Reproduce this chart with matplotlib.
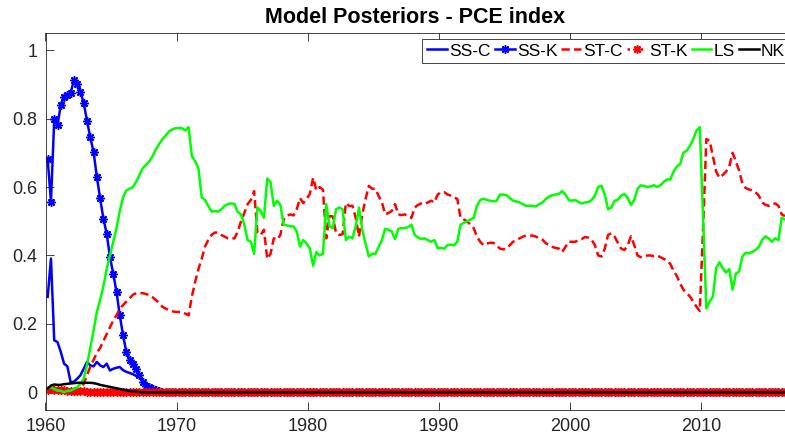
import numpy as np
import matplotlib
matplotlib.use("Agg")
import matplotlib.pyplot as plt

plt.rcParams["font.family"] = ["Liberation Sans", "DejaVu Sans"]

# quarterly posterior model probabilities, 1960Q1 - 2016Q2
ss_c_early = [0.279, 0.391, 0.152, 0.147, 0.118, 0.084, 0.076, 0.03, 0.031, 0.04,
              0.05, 0.069, 0.089, 0.079, 0.076, 0.089, 0.079, 0.074, 0.084, 0.064,
              0.069, 0.072, 0.074, 0.065, 0.06, 0.057, 0.053, 0.048, 0.045, 0.035,
              0.027, 0.02, 0.012, 0.008, 0.005, 0.003, 0.001]
ss_k_early = [0.681, 0.557, 0.798, 0.781, 0.84, 0.864, 0.869, 0.874, 0.913, 0.901,
              0.879, 0.845, 0.794, 0.745, 0.703, 0.63, 0.567, 0.508, 0.464, 0.396,
              0.347, 0.294, 0.225, 0.167, 0.118, 0.094, 0.084, 0.069, 0.05, 0.03,
              0.02, 0.015, 0.01, 0.006, 0.004, 0.002, 0.001]
st_k_early = [0.008, 0.01, 0.008, 0.007, 0.006, 0.006, 0.005, 0.005, 0.004, 0.004,
              0.003, 0.003, 0.002, 0.002, 0.001]
nk_early = [0.011, 0.02, 0.023, 0.022, 0.022, 0.024, 0.025, 0.026, 0.027, 0.028,
            0.028, 0.028, 0.028, 0.028, 0.027, 0.025, 0.022, 0.02, 0.018, 0.016,
            0.014, 0.012, 0.01, 0.008, 0.006, 0.004, 0.003, 0.002, 0.001]

st_c = [
    0.0, 0.0, 0.0, 0.0,           # 1960
    0.0, 0.0, 0.0, 0.0,           # 1961
    0.0, 0.005, 0.012, 0.025,     # 1962
    0.05, 0.075, 0.095, 0.115,    # 1963
    0.13, 0.15, 0.17, 0.19,       # 1964
    0.21, 0.225, 0.245, 0.255,    # 1965
    0.265, 0.275, 0.285, 0.29,    # 1966
    0.29, 0.29, 0.287, 0.285,     # 1967
    0.278, 0.27, 0.262, 0.25,     # 1968
    0.245, 0.24, 0.237, 0.235,    # 1969
    0.235, 0.235, 0.23, 0.225,    # 1970
    0.28, 0.323, 0.36, 0.39,      # 1971
    0.426, 0.445, 0.46, 0.467,    # 1972
    0.467, 0.46, 0.455, 0.45,     # 1973
    0.45, 0.45, 0.47, 0.50,       # 1974
    0.524, 0.55, 0.562, 0.588,    # 1975
    0.466, 0.46, 0.475, 0.39,     # 1976
    0.405, 0.45, 0.446, 0.46,     # 1977
    0.505, 0.516, 0.52, 0.517,    # 1978
    0.535, 0.568, 0.553, 0.565,   # 1979
    0.58, 0.627, 0.59, 0.60,      # 1980
    0.592, 0.45, 0.515, 0.514,    # 1981
    0.465, 0.46, 0.462, 0.553,    # 1982
    0.545, 0.545, 0.51, 0.455,    # 1983
    0.52, 0.565, 0.603, 0.595,    # 1984
    0.595, 0.574, 0.555, 0.52,    # 1985
    0.524, 0.53, 0.55, 0.52,      # 1986
    0.518, 0.52, 0.516, 0.51,     # 1987
    0.54, 0.548, 0.552, 0.55,     # 1988
    0.555, 0.56, 0.555, 0.578,    # 1989
    0.585, 0.585, 0.578, 0.575,   # 1990
    0.57, 0.565, 0.51, 0.505,     # 1991
    0.50, 0.49, 0.48, 0.455,      # 1992
    0.44, 0.43, 0.435, 0.437,     # 1993
    0.437, 0.43, 0.42, 0.418,     # 1994
    0.42, 0.43, 0.44, 0.445,      # 1995
    0.45, 0.455, 0.458, 0.458,    # 1996
    0.458, 0.455, 0.45, 0.446,    # 1997
    0.436, 0.43, 0.425, 0.422,    # 1998
    0.42, 0.41, 0.425, 0.44,      # 1999
    0.44, 0.44, 0.445, 0.448,     # 2000
    0.454, 0.452, 0.446, 0.43,    # 2001
    0.40, 0.397, 0.42, 0.46,      # 2002
    0.465, 0.455, 0.437, 0.42,    # 2003
    0.416, 0.43, 0.456, 0.43,     # 2004
    0.40, 0.395, 0.397, 0.40,     # 2005
    0.40, 0.398, 0.40, 0.395,     # 2006
    0.39, 0.385, 0.375, 0.355,    # 2007
    0.34, 0.318, 0.30, 0.29,      # 2008
    0.28, 0.265, 0.25, 0.238,     # 2009
    0.48, 0.74, 0.735, 0.69,      # 2010
    0.645, 0.627, 0.635, 0.645,   # 2011
    0.66, 0.70, 0.675, 0.648,     # 2012
    0.61, 0.597, 0.593, 0.59,     # 2013
    0.585, 0.575, 0.555, 0.548,   # 2014
    0.545, 0.55, 0.552, 0.545,    # 2015
    0.52, 0.515,                  # 2016
]

ls = [
    0.01, 0.015, 0.01, 0.005,     # 1960
    0.005, 0.0, 0.005, 0.005,     # 1961
    0.01, 0.015, 0.025, 0.04,     # 1962
    0.08, 0.13, 0.18, 0.235,      # 1963
    0.27, 0.31, 0.36, 0.40,       # 1964
    0.44, 0.48, 0.53, 0.57,       # 1965
    0.59, 0.595, 0.60, 0.615,     # 1966
    0.635, 0.655, 0.665, 0.675,   # 1967
    0.69, 0.71, 0.725, 0.74,      # 1968
    0.75, 0.762, 0.768, 0.772,    # 1969
    0.772, 0.772, 0.765, 0.775,   # 1970
    0.69, 0.675, 0.655, 0.57,     # 1971
    0.562, 0.545, 0.528, 0.53,    # 1972
    0.528, 0.535, 0.545, 0.55,    # 1973
    0.552, 0.55, 0.527, 0.52,     # 1974
    0.49, 0.445, 0.44, 0.405,     # 1975
    0.54, 0.53, 0.51, 0.625,      # 1976
    0.615, 0.545, 0.56, 0.548,    # 1977
    0.49, 0.488, 0.485, 0.485,    # 1978
    0.47, 0.426, 0.445, 0.435,    # 1979
    0.42, 0.37, 0.41, 0.40,       # 1980
    0.405, 0.55, 0.485, 0.48,     # 1981
    0.535, 0.54, 0.535, 0.445,    # 1982
    0.455, 0.45, 0.485, 0.54,     # 1983
    0.475, 0.435, 0.397, 0.405,   # 1984
    0.405, 0.425, 0.445, 0.478,   # 1985
    0.475, 0.47, 0.448, 0.478,    # 1986
    0.48, 0.48, 0.483, 0.49,      # 1987
    0.46, 0.452, 0.448, 0.45,     # 1988
    0.445, 0.44, 0.445, 0.422,    # 1989
    0.422, 0.42, 0.43, 0.432,     # 1990
    0.43, 0.44, 0.49, 0.495,      # 1991
    0.50, 0.505, 0.51, 0.545,     # 1992
    0.562, 0.566, 0.562, 0.56,    # 1993
    0.558, 0.56, 0.578, 0.578,    # 1994
    0.576, 0.568, 0.56, 0.558,    # 1995
    0.555, 0.55, 0.545, 0.545,    # 1996
    0.545, 0.543, 0.55, 0.555,    # 1997
    0.565, 0.572, 0.576, 0.578,   # 1998
    0.58, 0.588, 0.578, 0.562,    # 1999
    0.56, 0.562, 0.556, 0.552,    # 2000
    0.555, 0.556, 0.562, 0.575,   # 2001
    0.60, 0.604, 0.578, 0.535,    # 2002
    0.54, 0.56, 0.563, 0.575,     # 2003
    0.58, 0.568, 0.548, 0.562,    # 2004
    0.595, 0.605, 0.603, 0.60,    # 2005
    0.602, 0.605, 0.60, 0.605,    # 2006
    0.615, 0.622, 0.622, 0.645,   # 2007
    0.66, 0.667, 0.70, 0.706,     # 2008
    0.72, 0.74, 0.765, 0.775,     # 2009
    0.51, 0.245, 0.265, 0.28,     # 2010
    0.363, 0.38, 0.363, 0.35,     # 2011
    0.36, 0.30, 0.347, 0.353,     # 2012
    0.397, 0.408, 0.406, 0.41,    # 2013
    0.416, 0.425, 0.445, 0.456,   # 2014
    0.45, 0.44, 0.45, 0.445,      # 2015
    0.51, 0.505,                  # 2016
]

n = len(ls)
dates = 1960 + 2 / 12 + 0.25 * np.arange(n)


def pad(vals):
    return vals + [0.0] * (n - len(vals))


ss_c = pad(ss_c_early)
ss_k = pad(ss_k_early)
st_k = pad(st_k_early)
nk = pad(nk_early)

fig = plt.figure(figsize=(7.85, 4.45), dpi=100)
ax = fig.add_axes([45.5 / 785, 35.5 / 445, 739.5 / 785, 376.5 / 445])

lw = 1.8
star = (8, 2, 0)
ax.plot(dates, ss_c, color="blue", lw=lw, label="SS-C")
ax.plot(dates, ss_k, color="blue", lw=lw, marker=star, ms=6, mew=1.1, label="SS-K")
ax.plot(dates, st_c, color="red", lw=lw, ls="--", dashes=(3.3, 1.7), label="ST-C")
ax.plot(dates, st_k, color="red", lw=lw, ls=":", marker=star, ms=6, mew=1.1, label="ST-K")
ax.plot(dates, ls, color=(0, 1, 0), lw=lw, label="LS")
ax.plot(dates, nk, color="black", lw=lw, label="NK")

ax.set_xlim(1960, dates[-1])
ax.set_ylim(-0.05, 1.05)
ax.set_xticks([1960, 1970, 1980, 1990, 2000, 2010])
ax.set_yticks([0, 0.2, 0.4, 0.6, 0.8, 1])
ax.set_yticklabels(["0", "0.2", "0.4", "0.6", "0.8", "1"])
ax.tick_params(direction="in", length=5.5, width=0.6, top=True, right=False,
               labelsize=13, colors="#262626", pad=6)
for sp in ax.spines.values():
    sp.set_color("#262626")
    sp.set_linewidth(0.6)
ax.spines["right"].set_visible(False)

ax.set_title("Model Posteriors - PCE index", fontsize=15.5, fontweight="bold", pad=7)

leg = ax.legend(loc="upper right", bbox_to_anchor=(1.006, (445 - 38.5) / 445),
                bbox_transform=fig.transFigure, ncol=6, fontsize=12.5,
                handlelength=1.15, handletextpad=0.12, columnspacing=0.23,
                borderpad=0.28, borderaxespad=0, fancybox=False, framealpha=1)
leg.get_frame().set_edgecolor("#262626")
leg.get_frame().set_linewidth(0.6)

fig.savefig("out.png", dpi=100)
